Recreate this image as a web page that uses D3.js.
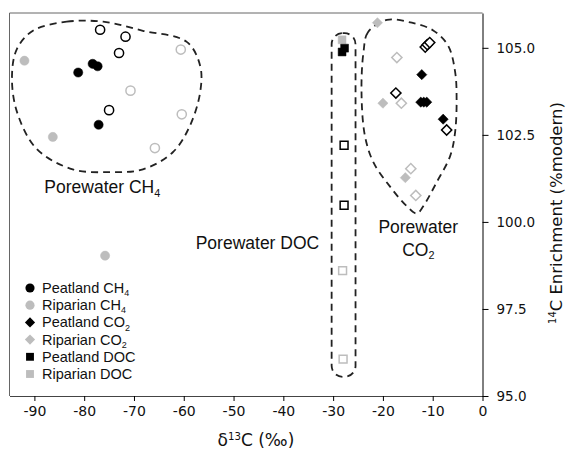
<!DOCTYPE html>
<html>
<head>
<meta charset="utf-8">
<script src="https://cdn.jsdelivr.net/npm/d3@7"></script>
<style>
  body { margin: 0; background: #fff; }
  svg { display: block; font-family: "Liberation Sans", Arial, sans-serif; }
  .tick text { font-family: "DejaVu Sans", Verdana, sans-serif; font-size: 13px; fill: #111; }
</style>
</head>
<body>
<div id="chart"></div>
<script>
// [d13C, 14C] pairs
const peatCH4 = [[-81.2, 104.29], [-78.3, 104.54], [-77.3, 104.47], [-77.1, 102.79]];
const peatCH4Open = [[-76.8, 105.52], [-71.7, 105.32], [-73.0, 104.85], [-75.0, 103.21]];
const ripCH4 = [[-92.0, 104.63], [-86.3, 102.44], [-75.8, 99.03]];
const ripCH4Open = [[-60.6, 104.95], [-70.7, 103.77], [-60.4, 103.09], [-65.8, 102.12]];
const peatCO2 = [[-12.2, 104.23], [-12.4, 103.44], [-11.8, 103.44], [-11.2, 103.44], [-7.9, 102.95]];
const peatCO2Open = [[-11.5, 105.02], [-11.1, 105.09], [-10.6, 105.15], [-17.4, 103.70], [-7.2, 102.64]];
const ripCO2 = [[-21.1, 105.72], [-20.0, 103.41], [-15.5, 101.27]];
const ripCO2Open = [[-17.2, 104.72], [-16.3, 103.41], [-14.4, 101.53], [-13.4, 100.76]];
const ripDOC = [[-28.2, 105.23]];
const ripDOCOpen = [[-28.1, 98.60], [-28.0, 96.06]];
const peatDOC = [[-28.2, 104.88], [-27.7, 104.99]];
const peatDOCOpen = [[-27.8, 102.20], [-27.8, 100.48]];

const xTicks = [-90, -80, -70, -60, -50, -40, -30, -20, -10, 0];
const yTicks = [95, 97.5, 100, 102.5, 105];

// hand-drawn outlines around each group (data units)
const hullCH4 = [[-90.3, 105.49], [-83.5, 105.75], [-76.2, 105.75], [-68.2, 105.49], [-59.4, 105.17],
  [-56.7, 104.48], [-56.7, 103.73], [-58.8, 102.75], [-62.2, 102.0], [-68.2, 101.51], [-74.8, 101.43],
  [-82.3, 101.51], [-89.5, 102.09], [-93.5, 103.16], [-94.5, 104.19], [-93.5, 104.97]];
const hullCO2 = [[-19.2, 105.8], [-23.0, 105.45], [-23.9, 104.88], [-24.3, 103.73], [-23.6, 102.46],
  [-21.9, 101.71], [-18.6, 101.02], [-15.2, 100.45], [-13.2, 100.24], [-11.9, 100.45], [-9.2, 101.14],
  [-6.5, 101.89], [-5.5, 102.58], [-5.2, 103.53], [-5.5, 104.31], [-6.9, 105.06], [-9.9, 105.5], [-14.2, 105.72]];
const boxDOC = { x0: -30.3, x1: -25.5, y0: 95.55, y1: 105.42 };

const width = 570, height = 452;
const margin = { top: 13, right: 87.5, bottom: 56, left: 9.5 };

const svg = d3.select("#chart").append("svg")
  .attr("width", width)
  .attr("height", height);

const x = d3.scaleLinear().domain([-95, 0]).range([margin.left, width - margin.right]);
const y = d3.scaleLinear().domain([95, 106]).range([height - margin.bottom, margin.top]);

const black = "#000", grey = "#bdbdbd";

// frame (top and left sides)
svg.append("path")
  .attr("d", `M${x(0)},${y(106)}H${x(-95)}V${y(95)}`)
  .attr("fill", "none")
  .attr("stroke", "#666")
  .attr("stroke-width", 1);

// bottom axis
const xAxis = svg.append("g")
  .attr("transform", `translate(0,${y(95)})`)
  .call(d3.axisBottom(x).tickValues(xTicks).tickSize(5).tickSizeOuter(0).tickPadding(5).tickFormat(d => String(d)));

// right axis
const yAxis = svg.append("g")
  .attr("transform", `translate(${x(0)},0)`)
  .call(d3.axisRight(y).tickValues(yTicks).tickSize(6).tickSizeOuter(0).tickPadding(8).tickFormat(d3.format(".1f")));

xAxis.selectAll(".tick text").attr("font-size", 14).style("font-size", "14px");
yAxis.selectAll(".tick text").style("font-size", "13.5px");
xAxis.select(".domain").attr("stroke", "#444");
yAxis.select(".domain").attr("stroke", "#000");

// dashed outlines
const line = d3.line().x(d => x(d[0])).y(d => y(d[1])).curve(d3.curveCatmullRomClosed.alpha(0.5));
const dashed = g => g.attr("fill", "none").attr("stroke", "#222").attr("stroke-width", 1.8).attr("stroke-dasharray", "7,5");

svg.append("path").attr("d", line(hullCH4)).call(dashed);
svg.append("path").attr("d", line(hullCO2)).call(dashed);
svg.append("rect")
  .attr("x", x(boxDOC.x0)).attr("width", x(boxDOC.x1) - x(boxDOC.x0))
  .attr("y", y(boxDOC.y1)).attr("height", y(boxDOC.y0) - y(boxDOC.y1))
  .attr("rx", 11)
  .call(dashed);

// marker shapes
const sym = {
  circle: d3.symbol(d3.symbolCircle, 66),
  diamond: d3.symbol(d3.symbolSquare, 52),
  square: d3.symbol(d3.symbolSquare, 62)
};

function drawPoints(data, shape, color, open) {
  svg.append("g").selectAll("path")
    .data(data)
    .join("path")
    .attr("transform", d => `translate(${x(d[0])},${y(d[1])})` + (shape === "diamond" ? " rotate(45)" : ""))
    .attr("d", sym[shape])
    .attr("fill", open ? "#fff" : color)
    .attr("stroke", color)
    .attr("stroke-width", open ? 1.5 : 0.5);
}

drawPoints(ripCH4, "circle", grey, false);
drawPoints(ripCH4Open, "circle", grey, true);
drawPoints(peatCH4Open, "circle", black, true);
drawPoints(peatCH4, "circle", black, false);
drawPoints(ripCO2, "diamond", grey, false);
drawPoints(ripCO2Open, "diamond", grey, true);
drawPoints(peatCO2Open, "diamond", black, true);
drawPoints(peatCO2, "diamond", black, false);
drawPoints(ripDOC, "square", grey, false);
drawPoints(ripDOCOpen, "square", grey, true);
drawPoints(peatDOCOpen, "square", black, true);
drawPoints(peatDOC, "square", black, false);

// text with a subscript part
function label(sel, main, sub) {
  sel.append("tspan").text(main);
  if (sub) sel.append("tspan").attr("font-size", "0.62em").attr("dy", "0.35em").text(sub);
}

svg.append("text").attr("x", x(-88)).attr("y", y(100.83))
  .attr("font-size", 17.5).attr("fill", "#111")
  .call(label, "Porewater CH", "4");
svg.append("text").attr("x", x(-45.2)).attr("y", y(99.22)).attr("text-anchor", "middle")
  .attr("font-size", 17.5).attr("fill", "#111")
  .call(label, "Porewater DOC");
svg.append("text").attr("x", x(-12.9)).attr("y", y(99.68)).attr("text-anchor", "middle")
  .attr("font-size", 17.5).attr("fill", "#111")
  .call(label, "Porewater");
svg.append("text").attr("x", x(-12.9)).attr("y", y(99.03)).attr("text-anchor", "middle")
  .attr("font-size", 17.5).attr("fill", "#111")
  .call(label, "CO", "2");

// legend
const legendItems = [
  { name: "Peatland CH", sub: "4", shape: "circle", color: black },
  { name: "Riparian CH", sub: "4", shape: "circle", color: grey },
  { name: "Peatland CO", sub: "2", shape: "diamond", color: black },
  { name: "Riparian CO", sub: "2", shape: "diamond", color: grey },
  { name: "Peatland DOC", sub: "", shape: "square", color: black },
  { name: "Riparian DOC", sub: "", shape: "square", color: grey }
];
const legend = svg.append("g").attr("transform", "translate(30,288)");
const row = legend.selectAll("g").data(legendItems).join("g")
  .attr("transform", (d, i) => `translate(0,${i * 17.2})`);
row.append("path")
  .attr("d", d => sym[d.shape]())
  .attr("transform", d => d.shape === "diamond" ? "rotate(45)" : null)
  .attr("fill", d => d.color);
row.append("text")
  .attr("x", 12).attr("y", 5)
  .attr("font-size", 14.5).attr("fill", "#111")
  .each(function(d) { label(d3.select(this), d.name, d.sub); });

// axis titles
svg.append("text")
  .attr("x", x(-45.5)).attr("y", 446)
  .attr("text-anchor", "middle")
  .attr("font-family", "'DejaVu Sans', Verdana, sans-serif")
  .attr("font-size", 17).attr("fill", "#111")
  .call(s => {
    s.append("tspan").text("δ");
    s.append("tspan").attr("font-size", "0.6em").attr("dy", "-0.6em").text("13");
    s.append("tspan").attr("dy", "0.36em").text("C (‰)");
  });

svg.append("text")
  .attr("transform", `translate(562,213) rotate(-90)`)
  .attr("text-anchor", "middle")
  .attr("font-family", "'DejaVu Sans', Verdana, sans-serif")
  .attr("font-size", 16.5).attr("fill", "#111")
  .call(s => {
    s.append("tspan").attr("font-size", "0.6em").attr("dy", "-0.6em").text("14");
    s.append("tspan").attr("dy", "0.36em").text("C Enrichment (%modern)");
  });
</script>
</body>
</html>
